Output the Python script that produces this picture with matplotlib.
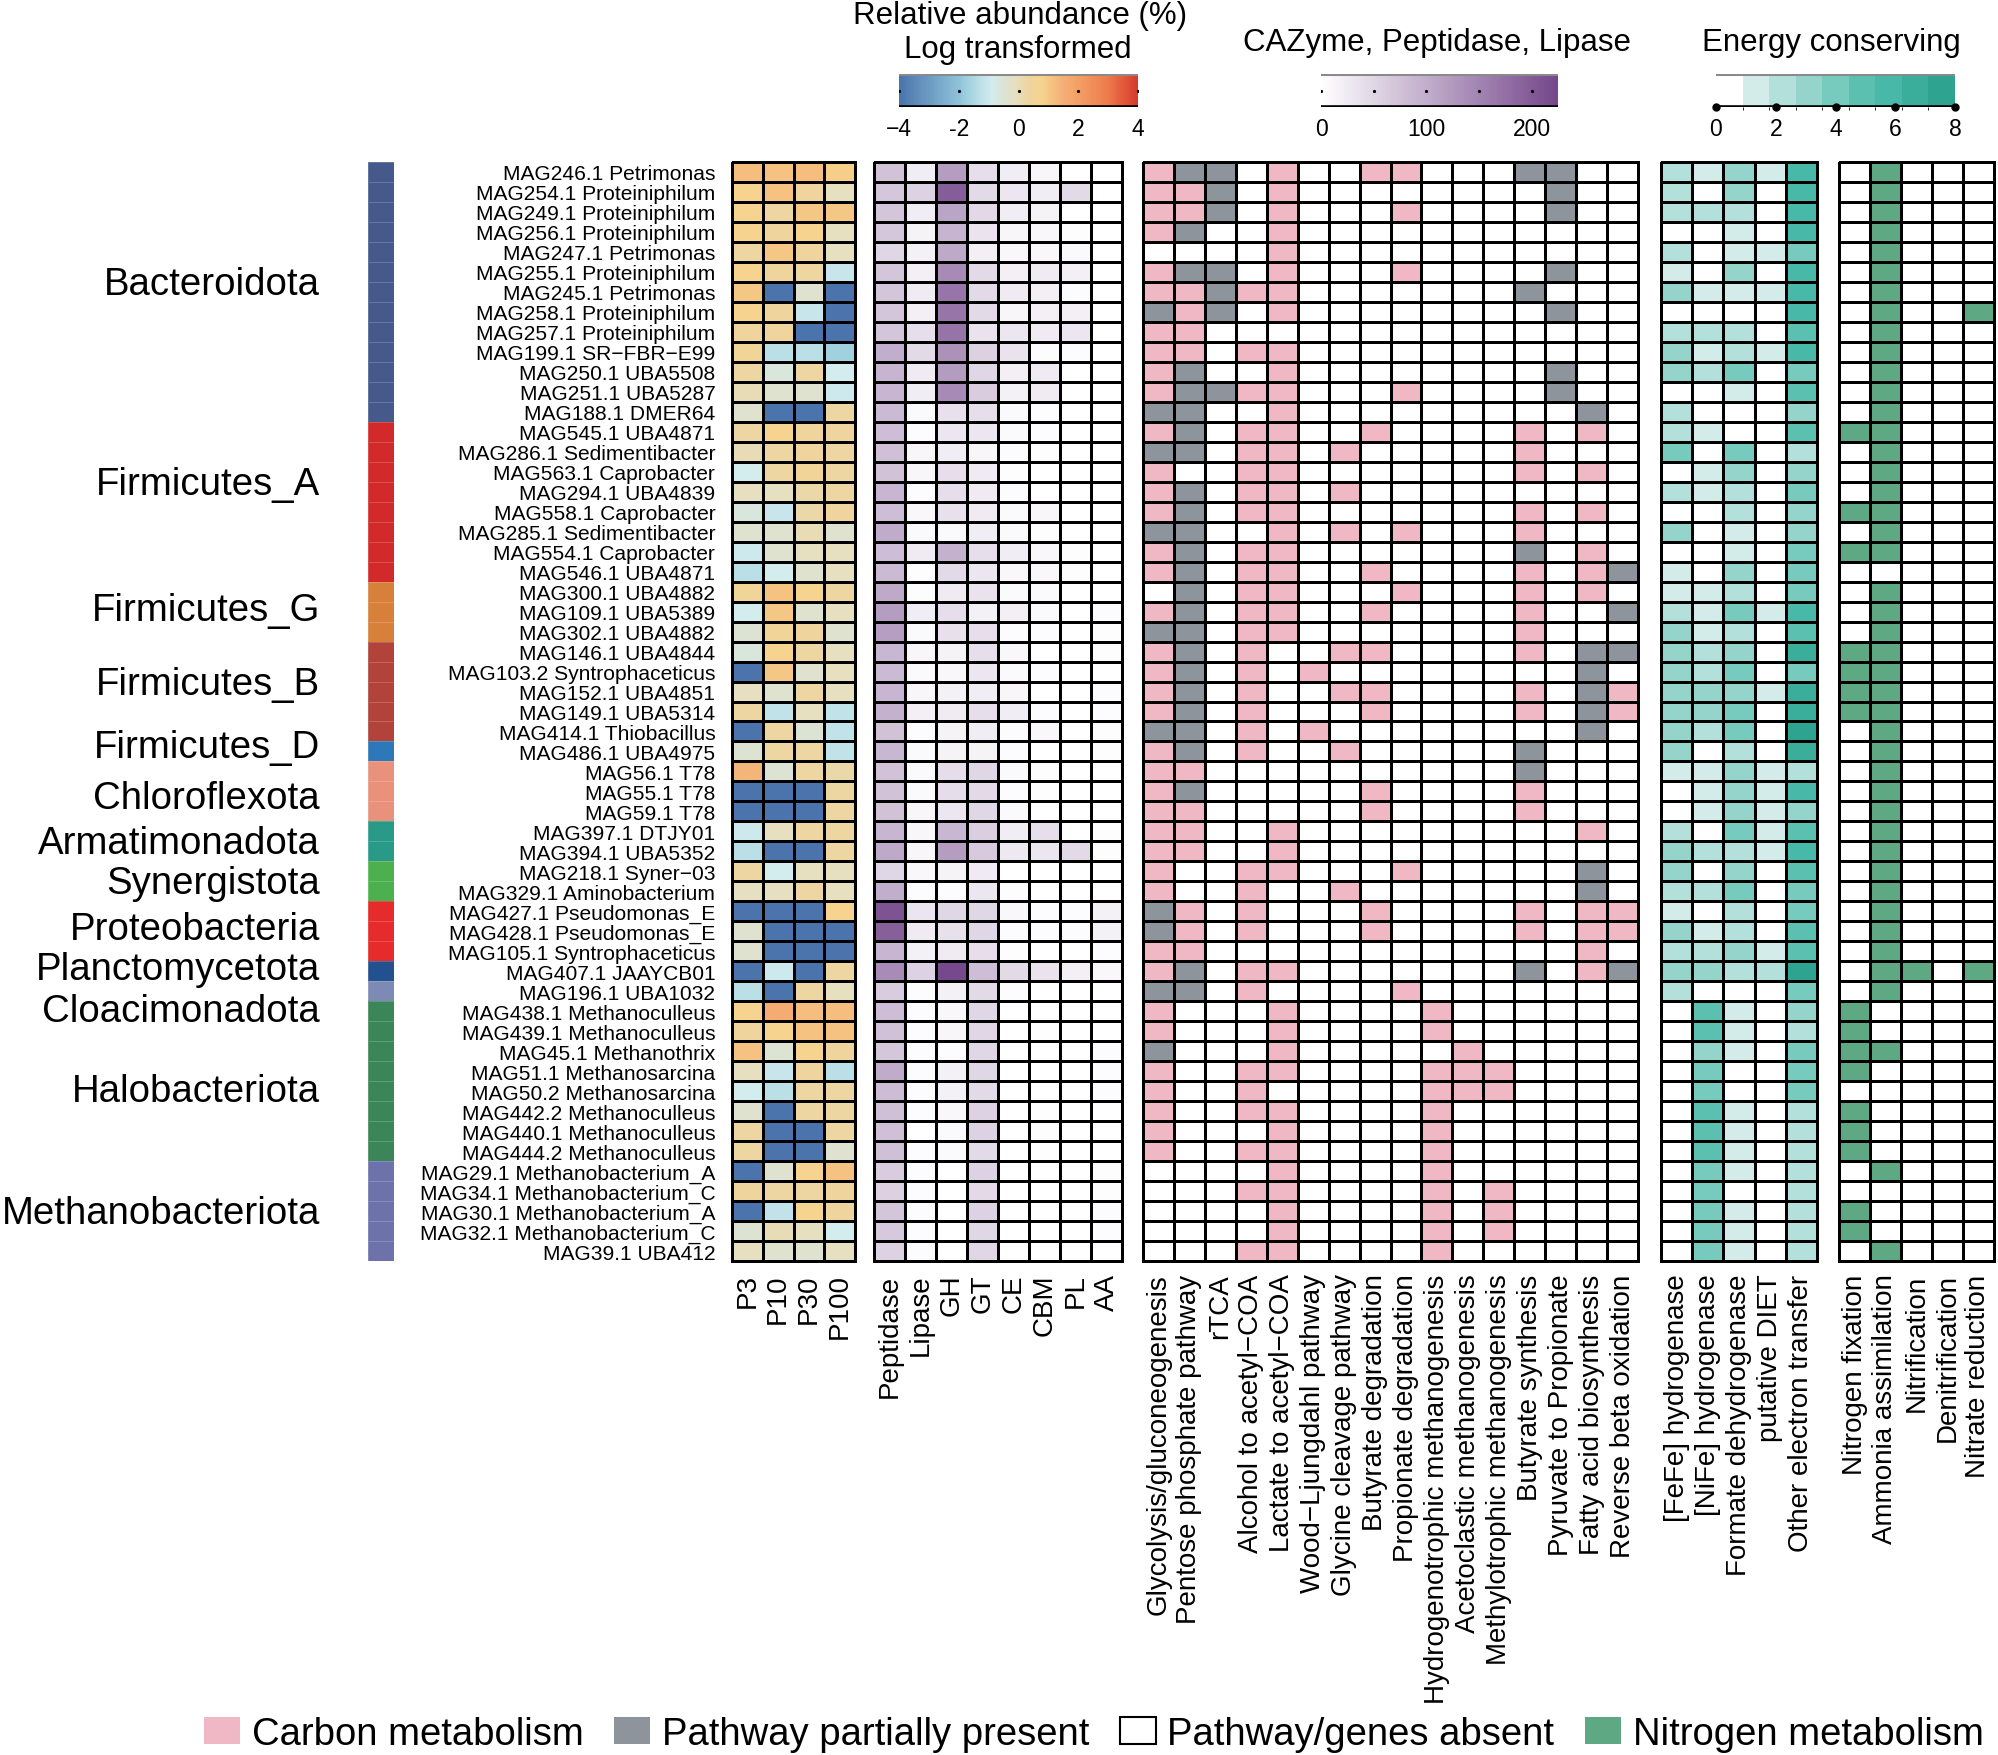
import numpy as np
import matplotlib
matplotlib.use("Agg")
import matplotlib.pyplot as plt
from matplotlib.colors import LinearSegmentedColormap, ListedColormap, BoundaryNorm, Normalize
from matplotlib.cm import ScalarMappable
from matplotlib.patches import Patch
import matplotlib.transforms as mtransforms

plt.rcParams['font.family'] = ['Liberation Sans', 'DejaVu Sans']

# ---------------- data ----------------
mags = ["MAG246.1 Petrimonas", "MAG254.1 Proteiniphilum", "MAG249.1 Proteiniphilum",
        "MAG256.1 Proteiniphilum", "MAG247.1 Petrimonas", "MAG255.1 Proteiniphilum",
        "MAG245.1 Petrimonas", "MAG258.1 Proteiniphilum", "MAG257.1 Proteiniphilum",
        "MAG199.1 SR\u2212FBR\u2212E99", "MAG250.1 UBA5508", "MAG251.1 UBA5287",
        "MAG188.1 DMER64", "MAG545.1 UBA4871", "MAG286.1 Sedimentibacter",
        "MAG563.1 Caprobacter", "MAG294.1 UBA4839", "MAG558.1 Caprobacter",
        "MAG285.1 Sedimentibacter", "MAG554.1 Caprobacter", "MAG546.1 UBA4871",
        "MAG300.1 UBA4882", "MAG109.1 UBA5389", "MAG302.1 UBA4882",
        "MAG146.1 UBA4844", "MAG103.2 Syntrophaceticus", "MAG152.1 UBA4851",
        "MAG149.1 UBA5314", "MAG414.1 Thiobacillus", "MAG486.1 UBA4975",
        "MAG56.1 T78", "MAG55.1 T78", "MAG59.1 T78", "MAG397.1 DTJY01",
        "MAG394.1 UBA5352", "MAG218.1 Syner\u221203", "MAG329.1 Aminobacterium",
        "MAG427.1 Pseudomonas_E", "MAG428.1 Pseudomonas_E", "MAG105.1 Syntrophaceticus",
        "MAG407.1 JAAYCB01", "MAG196.1 UBA1032", "MAG438.1 Methanoculleus",
        "MAG439.1 Methanoculleus", "MAG45.1 Methanothrix", "MAG51.1 Methanosarcina",
        "MAG50.2 Methanosarcina", "MAG442.2 Methanoculleus", "MAG440.1 Methanoculleus",
        "MAG444.2 Methanoculleus", "MAG29.1 Methanobacterium_A", "MAG34.1 Methanobacterium_C",
        "MAG30.1 Methanobacterium_A", "MAG32.1 Methanobacterium_C", "MAG39.1 UBA412"]

phylum_names = ["Bacteroidota", "Firmicutes_A", "Firmicutes_G", "Firmicutes_B", "Firmicutes_D",
                "Chloroflexota", "Armatimonadota", "Synergistota", "Proteobacteria",
                "Planctomycetota", "Cloacimonadota", "Halobacteriota", "Methanobacteriota"]
phylum_sizes = [13, 8, 3, 5, 1, 3, 2, 2, 3, 1, 1, 8, 5]
phylum_colors = ["#455a8a", "#d22a2a", "#d6803a", "#b2433a", "#2d78b8", "#ea917c", "#2a9a88",
                 "#4db04f", "#e52b2b", "#235190", "#7b8bb5", "#3b8658", "#6e72aa"]
phylum_label_rows = [5.9, 15.9, 22.2, 25.9, 29.1, 31.65, 33.9, 35.9, 38.2, 40.2, 42.3, 46.3, 52.4]

samples = ["P3", "P10", "P30", "P100"]
P3 = [1.2, 0.8, 0.8, 0.8, 0.3, 0.8, 1.0, 0.8, 0.4, 0.5, 0.3, 0.0, -0.4, 0.3, 0.0, -0.9, -0.1, -0.6,
      -0.4, -1.0, -1.3, 0.5, -0.9, -0.5, -0.6, -4, -0.1, 0.3, -4, -0.5, 1.4, -4, -4, -1.0, -1.3, 0.3,
      -0.1, -4, -0.4, -0.4, -4, -1.3, 0.8, 0.4, 1.1, -0.1, -0.9, -0.4, 0.3, 0.3, -4, 0.4, -4, -0.5, -0.1]
P10 = [1.1, 1.1, 0.3, 0.4, 1.0, 0.4, -4, 0.4, 0.4, -1.3, -0.6, -0.4, -4, 0.8, 0.3, 0.3, -0.1, -1.1,
       -0.4, -0.4, -0.9, 1.1, 1.0, 0.5, 0.8, 1.0, -0.4, -1.2, 0.3, 0.3, -0.5, -4, -4, -0.1, -4, -0.9,
       -0.1, -4, -4, -4, -1.0, -4, 1.6, 0.8, -0.5, -1.1, -1.3, -4, -4, -4, -0.4, 0.3, -1.2, 0.0, -0.4]
P30 = [1.2, 0.4, 1.0, 0.8, 0.4, 0.3, -0.4, -1.1, -4, -1.3, 0.3, -0.4, -4, 0.4, 0.4, 0.5, 0.2, 0.2,
       0.0, -0.1, -0.4, 0.8, -0.4, 0.4, 0.3, -0.4, 0.3, -0.1, -0.5, 0.3, 0.3, -4, -4, 0.3, -4, -0.1,
       0.3, -4, -4, -4, -4, 0.3, 1.2, 1.1, 0.8, 0.4, 0.3, 0.3, -4, -4, 0.8, 0.3, 0.8, -0.1, -0.4]
P100 = [0.9, -0.1, 1.0, -0.1, -0.1, -1.1, -4, -4, -4, -1.7, -0.9, -1.0, 0.3, 0.4, 0.3, 0.3, 0.3, 0.4,
        -0.4, -0.1, -0.1, 0.3, -0.1, -0.4, -0.1, -0.1, -0.1, -1.2, -1.2, -1.2, 0.2, 0.3, 0.3, 0.3, 0.3,
        -0.1, -0.1, 0.8, -4, -4, 0.3, -0.1, 1.2, 1.1, 0.4, -1.3, 0.3, 0.3, 0.3, -0.4, 1.1, 0.4, 0.4,
        -0.9, -0.1]

enzymes = ["Peptidase", "Lipase", "GH", "GT", "CE", "CBM", "PL", "AA"]
Peptidase = [75, 70, 72, 70, 50, 72, 72, 72, 72, 100, 92, 90, 85, 80, 78, 75, 90, 80, 102, 80,
             85, 105, 120, 118, 88, 85, 90, 95, 75, 88, 75, 75, 75, 90, 105, 50, 100, 210, 195, 90,
             140, 62, 80, 76, 70, 102, 82, 78, 78, 78, 62, 58, 72, 66, 55]
Lipase = [22, 55, 22, 15, 18, 20, 25, 20, 40, 45, 25, 22, 8, 5, 12, 12, 5, 10, 8, 25,
          3, 5, 22, 8, 12, 8, 12, 20, 5, 8, 8, 8, 12, 12, 12, 10, 5, 32, 25, 18,
          55, 5, 5, 5, 5, 5, 5, 5, 0, 5, 5, 5, 5, 5, 5]
GH = [120, 197, 110, 92, 105, 143, 168, 168, 170, 135, 122, 143, 38, 30, 22, 40, 40, 38, 8, 95,
      45, 25, 40, 38, 15, 10, 18, 25, 15, 15, 42, 42, 30, 88, 120, 15, 5, 50, 38, 25,
      222, 18, 10, 12, 5, 18, 18, 10, 8, 8, 0, 0, 0, 0, 0]
GT = [40, 45, 48, 33, 20, 45, 45, 45, 35, 58, 50, 62, 40, 30, 12, 25, 25, 25, 22, 40,
      30, 35, 18, 40, 40, 30, 22, 40, 22, 15, 50, 45, 50, 60, 65, 25, 30, 50, 50, 40,
      80, 45, 50, 50, 50, 50, 45, 55, 55, 45, 55, 45, 55, 50, 50]
CE = [22, 30, 22, 12, 10, 20, 25, 12, 30, 35, 20, 18, 8, 8, 5, 3, 5, 8, 8, 22,
      10, 8, 20, 5, 10, 8, 12, 22, 5, 5, 8, 5, 8, 22, 28, 0, 3, 10, 5, 3,
      45, 5, 0, 0, 0, 0, 0, 0, 0, 0, 0, 0, 0, 0, 0]
CBM = [12, 22, 15, 10, 10, 25, 20, 20, 25, 5, 25, 25, 3, 5, 3, 0, 0, 12, 3, 10,
       10, 8, 8, 5, 0, 5, 0, 5, 10, 0, 3, 3, 0, 40, 30, 0, 0, 5, 5, 0,
       35, 0, 0, 3, 0, 0, 0, 3, 3, 3, 0, 0, 0, 0, 0]
PL = [0, 45, 0, 3, 8, 20, 5, 20, 30, 5, 0, 0, 0, 0, 0, 0, 0, 0, 0, 3,
      3, 0, 0, 0, 0, 0, 0, 0, 0, 0, 0, 0, 0, 0, 45, 0, 0, 5, 5, 0,
      20, 0, 0, 0, 0, 0, 0, 0, 0, 0, 0, 0, 0, 0, 0]
AA = [0, 0, 0, 0, 0, 0, 0, 0, 0, 0, 0, 0, 0, 0, 0, 0, 0, 0, 0, 0,
      0, 0, 5, 3, 3, 0, 5, 5, 3, 3, 0, 0, 0, 3, 3, 0, 0, 18, 18, 5,
      10, 0, 0, 0, 5, 5, 5, 0, 0, 0, 3, 3, 5, 5, 0]

pathways = ["Glycolysis/gluconeogenesis", "Pentose phosphate pathway", "rTCA",
            "Alcohol to acetyl\u2212COA", "Lactate to acetyl\u2212COA", "Wood\u2212Ljungdahl pathway",
            "Glycine cleavage pathway", "Butyrate degradation", "Propionate degradation",
            "Hydrogenotrophic methanogenesis", "Acetoclastic methanogenesis",
            "Methylotrophic methanogenesis", "Butyrate synthesis", "Pyruvate to Propionate",
            "Fatty acid biosynthesis", "Reverse beta oxidation"]
# P = present (carbon metabolism), G = partially present, 0 = absent
pathway_rows = [
    "PGG0P00PP000GG00", "PPG0P00000000G00", "PPG0P000P0000G00", "PG00P00000000000",
    "0000P00000000000", "PGG0P000P0000G00", "PPGPP0000000G000", "GPG0P00000000G00",
    "PP00000000000000", "PP0PP00000000000", "PG00P00000000G00", "PGGPP000P0000G00",
    "GG00P000000000G0", "PG0PP00P0000P0P0", "GG0PP0P00000P000", "P00PP0000000P0P0",
    "PG0PP0P000000000", "PG0PP0000000P0P0", "GG00P0P0P000P000", "PG0PP0000000G0P0",
    "PG0PP00P0000P0PG", "0G0PP000P000P0P0", "PG0PP00P0000P00G", "GG0PP0000000P000",
    "PG0P00PP0000P0GG", "PG0P0P00000000G0", "PG0P00PP0000P0GP", "PG0P000P0000P0GP",
    "GG0P0P00000000G0", "PG0P00P00000G000", "PP0000000000G000", "PG00000P0000P000",
    "PP00000P0000P000", "PP00P000000000P0", "PP00P00000000000", "P00PP000P00000G0",
    "P00P00P0000000G0", "GP0P000P0000P0PP", "GP0P000P0000P0PP", "PP000000000000P0",
    "PG0PP0000000G0PG", "GG0P0000P0000000", "P000P0000P000000", "P000P0000P000000",
    "G000P00000P00000", "P00PP0000PPP0000", "P00P00000PPP0000", "P00PP0000P000000",
    "P000P0000P000000", "P00PP0000P000000", "0000P0000P000000", "000PP0000P0P0000",
    "0000P0000P0P0000", "0000P0000P0P0000", "000PP0000P000000"]

energy_genes = ["[FeFe] hydrogenase", "[NiFe] hydrogenase", "Formate dehydrogenase",
                "putative DIET", "Other electron transfer"]
energy_rows = [
    "21316", "20306", "22206", "00106", "20114", "10306", "31116", "00006", "22205", "31216",
    "32404", "00105", "20003", "21005", "40402", "01303", "21204", "00203", "30103", "00104",
    "10304", "11204", "21416", "31205", "32307", "32404", "33317", "33407", "32408", "30207",
    "11312", "01316", "01313", "20415", "32216", "30305", "22404", "10204", "31205", "22315",
    "33228", "20004", "05103", "05102", "03104", "04004", "04004", "05102", "05102", "05102",
    "04102", "04002", "04102", "04102", "04102"]

nitrogen_paths = ["Nitrogen fixation", "Ammonia assimilation", "Nitrification",
                  "Denitrification", "Nitrate reduction"]
nitrogen_rows = [
    "01000", "01000", "01000", "01000", "01000", "01000", "01000", "01001", "01000", "01000",
    "01000", "01000", "01000", "11000", "01000", "01000", "01000", "11000", "01000", "11000",
    "00000", "01000", "01000", "01000", "11000", "11000", "11000", "11000", "01000", "01000",
    "01000", "01000", "01000", "01000", "01000", "01000", "01000", "01000", "01000", "01000",
    "01101", "01000", "10000", "10000", "11000", "10000", "00000", "10000", "10000", "10000",
    "01000", "00000", "10000", "10000", "01000"]

legend_labels = ["Carbon metabolism", "Pathway partially present", "Pathway/genes absent",
                 "Nitrogen metabolism"]

# ---------------- styles ----------------
PINK = "#f0b8c4"
GREY = "#8d949c"
GREEN = "#5fa884"
abund_anchors = [(-4, '#4a74ab'), (-2, '#8fc2da'), (-1.7, '#a2d1df'), (-1.2, '#c2e2e9'),
                 (-0.9, '#d3ecee'), (-0.5, '#dce3d3'), (-0.1, '#e6dfc0'), (0.35, '#eed59e'),
                 (0.8, '#f6d38e'), (1.1, '#f5c382'), (1.5, '#f4b077'), (2.0, '#f4a064'),
                 (3.0, '#ee7a4d'), (4.0, '#d73a2c')]
abund_cmap = LinearSegmentedColormap.from_list(
    "abund", [((v + 4) / 8, c) for v, c in abund_anchors])
abund_norm = Normalize(-4, 4)
caz_cmap = LinearSegmentedColormap.from_list("caz", ["#ffffff", "#74478b"])
caz_norm = Normalize(0, 225)
energy_colors = ["#ffffff", "#d4ece9", "#b3e0db", "#95d4cb", "#77cabe", "#5cc0b1",
                 "#48b9a8", "#3aae9b", "#2ea38f"]
energy_cmap = ListedColormap(energy_colors)
energy_norm = BoundaryNorm(np.linspace(0, 8, 10), 9)
path_cmap = ListedColormap(["#ffffff", GREY, PINK])
path_norm = BoundaryNorm([-0.5, 0.5, 1.5, 2.5], 3)
nit_cmap = ListedColormap(["#ffffff", GREEN])
nit_norm = BoundaryNorm([-0.5, 0.5, 1.5], 2)

W, H = 1998, 1756
fig = plt.figure(figsize=(W / 100, H / 100), dpi=100)
ROW_TOP, ROW_BOT = 163, 1262


def add_ax(x0, x1, y0=ROW_TOP, y1=ROW_BOT):
    return fig.add_axes([x0 / W, 1 - y1 / H, (x1 - x0) / W, (y1 - y0) / H])


def heat(ax, data, cmap, norm, xlabels, lw=1.9):
    nr, nc = data.shape
    m = ax.pcolormesh(np.arange(nc + 1), np.arange(nr + 1), data, cmap=cmap, norm=norm,
                      edgecolors='black', linewidth=lw)
    m.set_clip_on(False)
    ax.set_xlim(0, nc)
    ax.set_ylim(nr, 0)
    ax.set_xticks(np.arange(nc) + 0.5)
    ax.set_xticklabels(xlabels, rotation=90, fontsize=20, va='top', ha='center')
    ax.tick_params(axis='x', length=0, pad=9)
    ax.set_yticks([])
    for s in ax.spines.values():
        s.set_visible(False)
    return m


n = len(mags)
abund = np.array([P3, P10, P30, P100]).T
caz = np.array([Peptidase, Lipase, GH, GT, CE, CBM, PL, AA]).T
path = np.array([[{'P': 2, 'G': 1, '0': 0}[ch] for ch in r] for r in pathway_rows])
energy = np.array([[int(ch) for ch in r] for r in energy_rows])
nitro = np.array([[int(ch) for ch in r] for r in nitrogen_rows])

# phylum bar
ax_ph = add_ax(368, 394)
grp = np.repeat(np.arange(len(phylum_names)), phylum_sizes)
ax_ph.pcolormesh([0, 1], np.arange(n + 1), grp[:, None], cmap=ListedColormap(phylum_colors),
                 norm=BoundaryNorm(np.arange(len(phylum_names) + 1) - 0.5, len(phylum_names)),
                 edgecolors=(1, 1, 1, 0.18), linewidth=0.7)
ax_ph.set_xlim(0, 1)
ax_ph.set_ylim(n, 0)
ax_ph.axis('off')
tr = mtransforms.blended_transform_factory(fig.transFigure, ax_ph.transData)
for name, yr in zip(phylum_names, phylum_label_rows):
    ax_ph.text(320 / W, yr, name, transform=tr, ha='right', va='center_baseline',
               fontsize=27.6)

# abundance
ax_ab = add_ax(732, 855)
heat(ax_ab, abund, abund_cmap, abund_norm, samples)
ax_ab.set_yticks(np.arange(n) + 0.5)
ax_ab.set_yticklabels(mags, fontsize=15.1)
ax_ab.tick_params(axis='y', length=0, pad=12)

# CAZyme
ax_cz = add_ax(874, 1122)
heat(ax_cz, caz, caz_cmap, caz_norm, enzymes)

# pathways
ax_pw = add_ax(1143, 1638)
heat(ax_pw, path, path_cmap, path_norm, pathways)

# energy
ax_en = add_ax(1661, 1817)
heat(ax_en, energy, energy_cmap, energy_norm, energy_genes)

# nitrogen
ax_ni = add_ax(1839, 1994)
heat(ax_ni, nitro, nit_cmap, nit_norm, nitrogen_paths)


# ---------------- colorbars ----------------
def cbar(x0, x1, cmap, norm, ticks, labels, big_dots=False):
    cax = add_ax(x0, x1, 75, 108)
    cb = fig.colorbar(ScalarMappable(norm=norm, cmap=cmap), cax=cax, orientation='horizontal',
                      spacing='proportional')
    cb.outline.set_visible(False)
    cax.axhline(1, color='#8a8a8a', lw=2.2)
    cax.axhline(0, color='black', lw=2.6)
    cb.set_ticks(ticks)
    cb.set_ticklabels(labels)
    cax.tick_params(axis='x', length=0, pad=7, labelsize=16.5)
    btr = mtransforms.blended_transform_factory(cax.transData, cax.transAxes)
    if big_dots:
        cax.plot(ticks, [0] * len(ticks), 'o', color='black', ms=5, transform=btr, clip_on=False)
    else:
        mids = np.linspace(ticks[0], ticks[-1], 5) if len(ticks) == 5 else np.arange(0, 201, 50)
        cax.plot(mids, [0.5] * len(mids), 'o', color='black', ms=1.3, transform=btr)
    return cax


cbar(899, 1138, abund_cmap, abund_norm, [-4, -2, 0, 2, 4], ['\u22124', '-2', '0', '2', '4'])
cbar(1321, 1558, caz_cmap, caz_norm, [0, 100, 200], ['0', '100', '200'])
cbar(1716, 1955, energy_cmap, energy_norm, [0, 2, 4, 6, 8], ['0', '2', '4', '6', '8'],
     big_dots=True)

fig.text(1020 / W, 1 - 16 / H, "Relative abundance (%)", ha='center', va='center', fontsize=22.5)
fig.text(1018 / W, 1 - 50 / H, "Log transformed", ha='center', va='center', fontsize=22.5)
fig.text(1437 / W, 1 - 43 / H, "CAZyme, Peptidase, Lipase", ha='center', va='center',
         fontsize=22.5)
fig.text(1831 / W, 1 - 43 / H, "Energy conserving", ha='center', va='center', fontsize=22.5)

# ---------------- legend ----------------
handles = [Patch(facecolor=PINK, edgecolor='none'),
           Patch(facecolor=GREY, edgecolor='none'),
           Patch(facecolor='white', edgecolor='black', linewidth=1.5),
           Patch(facecolor=GREEN, edgecolor='none')]
fig.legend(handles, legend_labels, loc='center left', bbox_to_anchor=(204 / W, 1 - 1735 / H),
           ncol=4, frameon=False, fontsize=27.5, handlelength=0.95, handleheight=0.72,
           handletextpad=0.3, columnspacing=0.8, borderaxespad=0, borderpad=0)

fig.savefig("out.png", dpi=100)
